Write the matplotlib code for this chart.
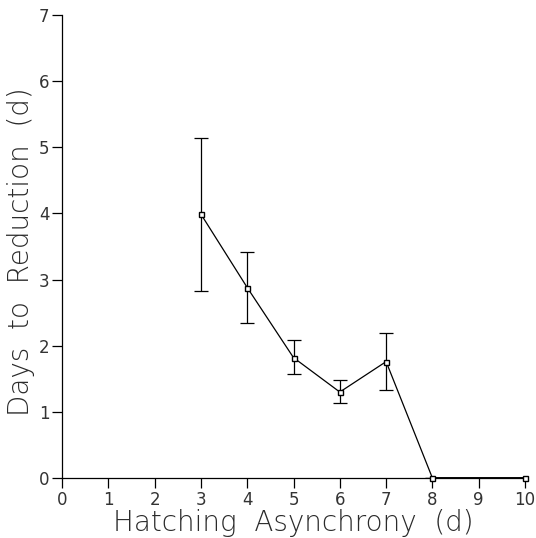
import matplotlib
matplotlib.use("Agg")
import matplotlib.pyplot as plt

# Mean days to brood reduction by hatching asynchrony, with error bars
asynchrony = [3, 4, 5, 6, 7, 8, 10]
days_to_reduction = [3.99, 2.88, 1.82, 1.30, 1.76, 0.0, 0.0]
err_upper = [5.14, 3.41, 2.09, 1.48, 2.19, 0.0, 0.0]
err_lower = [2.83, 2.34, 1.57, 1.14, 1.33, 0.0, 0.0]

x_ticks = list(range(0, 11))
y_ticks = list(range(0, 8))

plt.rcParams['font.family'] = ['DejaVu Sans']

fig = plt.figure(figsize=(5.36, 5.38), dpi=100)
ax = fig.add_axes([0.1157, 0.1115, 0.8638, 0.8605])

yerr = [[m - lo for m, lo in zip(days_to_reduction, err_lower)],
        [hi - m for m, hi in zip(days_to_reduction, err_upper)]]

ax.errorbar(asynchrony, days_to_reduction, yerr=yerr, fmt='none',
            ecolor='black', elinewidth=0.9, capsize=5.2, capthick=0.9, zorder=2)
ax.plot(asynchrony, days_to_reduction, color='black', lw=0.9, zorder=3)
# heavier run along the baseline for the zero-valued tail
ax.plot(asynchrony[-2:], days_to_reduction[-2:], color='black', lw=2.0, zorder=3)
ax.plot(asynchrony, days_to_reduction, linestyle='none', marker='s',
        markersize=3.6, markerfacecolor='white', markeredgecolor='black',
        markeredgewidth=1.0, zorder=4, clip_on=False)

ax.set_xlim(0, 10)
ax.set_ylim(0, 7)
ax.set_xticks(x_ticks)
ax.set_yticks(y_ticks)

for side in ('top', 'right'):
    ax.spines[side].set_visible(False)
for side in ('left', 'bottom'):
    ax.spines[side].set_linewidth(0.9)

ax.tick_params(axis='both', direction='out', length=7, width=0.9,
               labelsize=12, colors='black', labelcolor='#333333', pad=2)

ax.set_xlabel('Hatching  Asynchrony  (d)', fontsize=20, color='#2a2a2a',
              labelpad=0, fontweight='light')
ax.set_ylabel('Days  to  Reduction  (d)', fontsize=20, color='#2a2a2a',
              fontweight='light')
ax.yaxis.set_label_coords(-0.058, 0.49)

fig.savefig('out.png', dpi=100, facecolor='white')
